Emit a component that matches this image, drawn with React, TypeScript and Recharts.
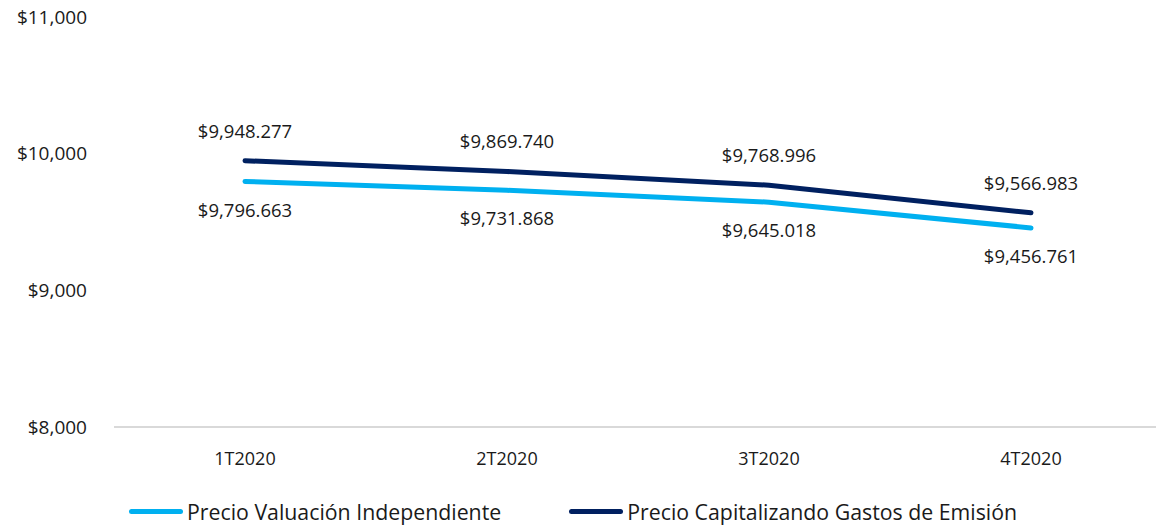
import { LineChart, Line, XAxis, YAxis, Legend, LabelList } from 'recharts';

const quarters = ['1T2020', '2T2020', '3T2020', '4T2020'];
const precioValuacion = [9796.663, 9731.868, 9645.018, 9456.761];
const precioCapitalizando = [9948.277, 9869.74, 9768.996, 9566.983];
const yTicks = [8000, 9000, 10000, 11000];
const legendOrder = ['Precio Valuación Independiente', 'Precio Capitalizando Gastos de Emisión'];

const data = quarters.map((q, i) => ({
    q,
    valuacion: precioValuacion[i],
    capitalizando: precioCapitalizando[i],
}));

const FONT = "'Open Sans', 'Noto Sans', sans-serif";

const fmtTick = (v: number) => '$' + v.toLocaleString('en-US');
const fmtLabel = (v: number) =>
    '$' + v.toLocaleString('en-US', { minimumFractionDigits: 3, maximumFractionDigits: 3 });

const LegendContent = (props: any) => {
    const items = [...(props.payload || [])].sort(
        (a: any, b: any) => legendOrder.indexOf(a.value) - legendOrder.indexOf(b.value)
    );
    return (
        <div style={{ display: 'flex', marginLeft: 129, paddingTop: 8, gap: 68, fontFamily: FONT, fontSize: 21.3, color: '#1a1a1a' }}>
            {items.map((it: any) => (
                <div key={it.value} style={{ display: 'flex', alignItems: 'center' }}>
                    <div style={{ width: 54, height: 5, borderRadius: 3, background: it.color, marginRight: 4 }} />
                    <span>{it.value}</span>
                </div>
            ))}
        </div>
    );
};

export default function App() {
    return (
        <div style={{ position: 'absolute', left: 0, top: 0, background: '#fff' }}>
            <LineChart width={1158} height={527} data={data} margin={{ top: 17, right: 2, left: 0, bottom: 0 }}>
                <XAxis
                    dataKey="q"
                    stroke="#d9d9d9"
                    strokeWidth={2}
                    tickLine={false}
                    tickSize={0}
                    tickMargin={25}
                    height={62}
                    padding={{ left: 131, right: 125 }}
                    tick={{ fill: '#1a1a1a', fontSize: 18, fontFamily: FONT }}
                />
                <YAxis
                    domain={[8000, 11000]}
                    ticks={yTicks}
                    axisLine={false}
                    tickLine={false}
                    tickSize={0}
                    tickMargin={27}
                    width={114}
                    tickFormatter={fmtTick}
                    tick={{ fill: '#1a1a1a', fontSize: 19, fontFamily: FONT }}
                />
                <Legend verticalAlign="bottom" height={38} content={<LegendContent />} />
                <Line
                    name="Precio Valuación Independiente"
                    dataKey="valuacion"
                    stroke="#00B0F0"
                    strokeWidth={5}
                    strokeLinecap="round"
                    dot={false}
                    isAnimationActive={false}
                >
                    <LabelList dataKey="valuacion" position="bottom" offset={22} formatter={fmtLabel}
                        style={{ fill: '#1a1a1a', fontSize: 18.5, fontFamily: FONT }} />
                </Line>
                <Line
                    name="Precio Capitalizando Gastos de Emisión"
                    dataKey="capitalizando"
                    stroke="#002060"
                    strokeWidth={5}
                    strokeLinecap="round"
                    dot={false}
                    isAnimationActive={false}
                >
                    <LabelList dataKey="capitalizando" position="top" offset={23} formatter={fmtLabel}
                        style={{ fill: '#1a1a1a', fontSize: 18.5, fontFamily: FONT }} />
                </Line>
            </LineChart>
        </div>
    );
}
